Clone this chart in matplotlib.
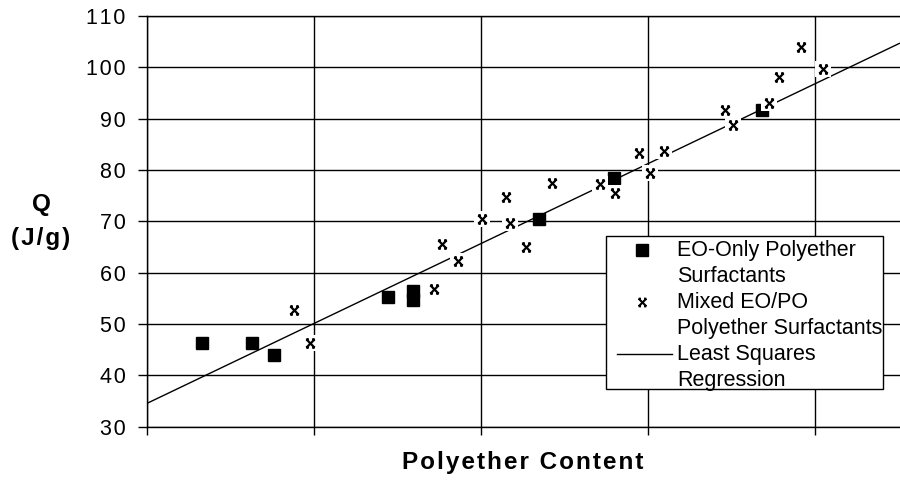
import matplotlib
matplotlib.use("Agg")
import matplotlib.pyplot as plt
from matplotlib.path import Path
from matplotlib.patches import Rectangle
import numpy as np

plt.rcParams['font.family'] = ['Liberation Sans', 'DejaVu Sans']

# EO-only polyether surfactants (squares)
eo_x = [3.34, 6.33, 7.64, 14.46, 15.94, 15.94, 23.5, 27.96, 36.84]
eo_y = [46.4, 46.4, 44.0, 55.3, 56.5, 54.6, 70.5, 78.4, 91.6]

# mixed EO/PO polyether surfactants (x markers)
mix_x = [8.82, 9.78, 17.19, 17.67, 18.65, 20.05, 21.5, 21.74, 22.7, 24.23,
         27.12, 28.0, 29.44, 30.95, 30.13, 34.58, 35.06, 37.21, 37.81, 39.13, 40.44]
mix_y = [52.7, 46.4, 56.9, 65.5, 62.3, 70.5, 74.8, 69.7, 65.1, 77.5,
         77.3, 75.6, 83.4, 83.8, 79.5, 91.6, 88.8, 93.1, 98.2, 104.0, 99.7]

# least squares line
reg_intercept = 34.5
reg_slope = 1.558

x_max = 45.07
y_ticks = [30, 40, 50, 60, 70, 80, 90, 100, 110]
x_grid = [0, 10, 20, 30, 40]

HS = "\u200a"  # hair space, the old excel text is a bit spread out


def spread(s):
    return HS.join(s)


# excel style "x" marker with little caps
verts = [(-1, -1), (1, 1), (-1, 1), (1, -1),
         (-1, 1), (-0.4, 1), (0.4, 1), (1, 1),
         (-1, -1), (-0.4, -1), (0.4, -1), (1, -1)]
codes = [Path.MOVETO, Path.LINETO] * 6
xmark = Path(verts, codes)

fig = plt.figure(figsize=(9, 4.86), dpi=100)
ax = fig.add_axes([146.5 / 900, 59.3 / 486, 1 - 146.5 / 900, 410.7 / 486])
ax.set_xlim(0, x_max)
ax.set_ylim(30, 110)

ax.set_xticks(x_grid)
ax.set_xticklabels([])
ax.set_yticks(y_ticks)
ax.set_yticklabels([spread(str(v)) for v in y_ticks], fontsize=15.5)
ax.tick_params(axis='y', direction='out', length=6.5, width=1, pad=8.5)
ax.tick_params(axis='x', direction='out', length=6, width=1)
ax.grid(True, color='black', linewidth=1, zorder=0)
ax.set_axisbelow(True)
for s in ['left', 'bottom', 'top']:
    ax.spines[s].set_linewidth(1)
ax.spines['right'].set_visible(False)

# regression line
xx = np.array([0, x_max])
ax.plot(xx, reg_intercept + reg_slope * xx, color='black', lw=1, zorder=2,
        solid_capstyle='butt')

# squares
ax.plot(eo_x, eo_y, 's', color='black', markersize=8.4, zorder=3, linestyle='none')

# x markers, each with its white box (drawn one after another like excel)
for i, (x, y) in enumerate(zip(mix_x, mix_y)):
    ax.plot([x], [y], 's', color='white', markersize=12, markeredgewidth=0, zorder=4 + 2 * i)
    ax.plot([x], [y], marker=xmark, color='black', markersize=6, markeredgewidth=1.6,
            linestyle='none', zorder=5 + 2 * i)

# legend, drawn by hand
top = 200
ax.add_patch(Rectangle((0.6097, 0.0918), 0.3673, 0.3725, transform=ax.transAxes,
                       facecolor='white', edgecolor='black', lw=1, zorder=top, clip_on=False))
ax.plot([0.6574], [0.4302], 's', color='black', markersize=8, transform=ax.transAxes,
        zorder=top + 1, clip_on=False)
ax.plot([0.6574], [0.3036], marker=xmark, color='black', markersize=5.5, markeredgewidth=1.5,
        transform=ax.transAxes, zorder=top + 1, clip_on=False)
ax.plot([0.6243, 0.6972], [0.1770, 0.1770], color='black', lw=1, transform=ax.transAxes,
        zorder=top + 1, clip_on=False)
leg_lines = ["EO-Only Polyether", "Surfactants", "Mixed EO/PO",
             "Polyether Surfactants", "Least Squares", "Regression"]
leg_y = [0.4302, 0.3652, 0.3036, 0.2403, 0.1770, 0.1137]
for t, y in zip(leg_lines, leg_y):
    ax.text(0.7042, y, t, transform=ax.transAxes, fontsize=15.5, va='center', ha='left',
            zorder=top + 2)

# axis titles
fig.text(523 / 900, 1 - 462 / 486, spread("Polyether Content"), fontsize=17.5,
         fontweight='bold', ha='center', va='center')
fig.text(41 / 900, 1 - 204 / 486, "Q", fontsize=17.5, fontweight='bold', ha='center', va='center')
fig.text(41 / 900, 1 - 238 / 486, spread("(J/g)"), fontsize=17.5, fontweight='bold',
         ha='center', va='center')

fig.savefig("out.png", dpi=100)
